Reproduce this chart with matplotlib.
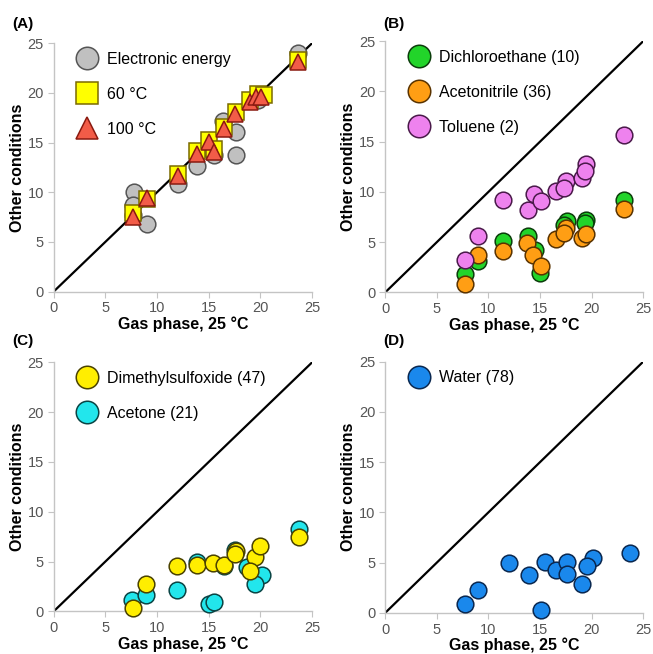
import matplotlib
matplotlib.use("Agg")
import matplotlib.pyplot as plt

plt.rcParams['font.family'] = ['Liberation Sans', 'DejaVu Sans']

# Panel A: gas phase vs other conditions
a_elec_x = [7.8, 7.7, 9.0, 12.0, 13.9, 15.5, 17.6, 17.6, 16.4, 19.8, 23.6, 7.7, 15.0]
a_elec_y = [10.0, 8.7, 6.8, 10.8, 12.6, 13.8, 13.7, 16.1, 17.2, 19.3, 24.0, 7.7, 14.5]
a_60_x = [7.7, 9.0, 12.0, 13.9, 15.0, 15.5, 16.5, 17.6, 19.0, 19.8, 20.3, 23.6]
a_60_y = [7.9, 9.3, 11.8, 14.2, 15.3, 14.4, 16.6, 18.1, 19.3, 19.9, 19.8, 23.3]
a_100_x = [7.7, 9.0, 12.0, 13.9, 15.0, 15.5, 16.5, 17.5, 19.0, 19.6, 20.1, 23.6]
a_100_y = [7.5, 9.4, 11.6, 13.9, 15.1, 14.1, 16.4, 17.9, 19.1, 19.6, 19.6, 23.1]

# Panel B
dce_x = [7.7, 9.0, 11.4, 13.8, 14.5, 15.0, 17.6, 17.3, 19.5, 19.4, 23.1]
dce_y = [1.8, 3.1, 5.1, 5.6, 4.2, 1.9, 7.1, 6.7, 7.2, 6.9, 9.2]
acn_x = [7.7, 9.0, 11.4, 13.7, 14.3, 15.1, 16.5, 17.5, 17.3, 19.1, 19.5, 23.1]
acn_y = [0.8, 3.7, 4.1, 4.9, 3.7, 2.6, 5.3, 6.4, 5.9, 5.4, 5.8, 8.3]
tol_x = [7.7, 9.0, 11.4, 13.8, 14.4, 15.1, 16.5, 17.5, 17.3, 19.1, 19.5, 19.4, 23.1]
tol_y = [3.2, 5.6, 9.2, 8.2, 9.8, 9.1, 10.1, 11.1, 10.4, 11.4, 12.8, 12.1, 15.7]

# Panel C
dmso_x = [7.7, 8.9, 11.9, 13.9, 15.4, 16.5, 17.6, 17.5, 19.5, 20.0, 19.0, 23.7]
dmso_y = [0.3, 2.8, 4.6, 4.7, 4.9, 4.7, 6.1, 5.8, 5.5, 6.6, 4.1, 7.5]
acet_x = [7.6, 8.9, 11.9, 13.9, 15.0, 15.5, 16.5, 17.5, 18.7, 20.2, 19.5, 23.7]
acet_y = [1.2, 1.7, 2.2, 5.0, 0.8, 1.0, 4.6, 6.2, 4.5, 3.7, 2.8, 8.3]

# Panel D
water_x = [7.7, 9.0, 12.0, 13.9, 15.1, 15.5, 16.5, 17.6, 17.6, 19.1, 20.1, 19.6, 23.7]
water_y = [0.9, 2.3, 5.0, 3.8, 0.3, 5.1, 4.3, 5.1, 3.9, 2.9, 5.5, 4.7, 6.0]

xlabel = "Gas phase, 25 \u00b0C"
ylabel = "Other conditions"
ticks = [0, 5, 10, 15, 20, 25]

fig = plt.figure(figsize=(6.53, 6.54), dpi=100)
ax_a = fig.add_axes([0.082, 0.554, 0.396, 0.380])
ax_b = fig.add_axes([0.590, 0.553, 0.395, 0.384])
ax_c = fig.add_axes([0.082, 0.065, 0.396, 0.381])
ax_d = fig.add_axes([0.590, 0.063, 0.395, 0.384])


def style_axes(ax):
    ax.plot([0, 25], [0, 25], color='black', lw=1.6, zorder=1)
    ax.set_xlim(0, 25)
    ax.set_ylim(0, 25)
    ax.set_xticks(ticks)
    ax.set_yticks(ticks)
    for s in ['top', 'right']:
        ax.spines[s].set_visible(False)
    for s in ['left', 'bottom']:
        ax.spines[s].set_color('#c4c4c4')
        ax.spines[s].set_linewidth(1.0)
    ax.tick_params(direction='out', length=4, color='#c4c4c4',
                   labelsize=10.5, labelcolor='#555555', pad=3)
    ax.set_xlabel(xlabel, fontsize=11.5, fontweight='bold', labelpad=1)
    ax.set_ylabel(ylabel, fontsize=11.5, fontweight='bold', labelpad=2)


def pts(ax, x, y, marker, face, edge, label, ms=12, z=3):
    return ax.plot(x, y, ls='none', marker=marker, ms=ms, mfc=face, mec=edge,
                   mew=1.1, label=label, zorder=z, clip_on=False)[0]


def add_legend(ax, handles):
    ax.legend(handles=handles, loc='upper left', bbox_to_anchor=(0.09, 0.965),
              frameon=False, fontsize=11.5, markerscale=1.35, borderpad=0,
              borderaxespad=0, handlelength=1.3, handletextpad=0.6,
              labelspacing=1.25, numpoints=1)


for ax in [ax_a, ax_b, ax_c, ax_d]:
    style_axes(ax)

h1 = pts(ax_a, a_elec_x, a_elec_y, 'o', '#c0c0c0', '#555555', 'Electronic energy')
h2 = pts(ax_a, a_60_x, a_60_y, 's', '#ffff00', '#7a6a00', '60 \u00b0C', ms=11.5, z=4)
h3 = pts(ax_a, a_100_x, a_100_y, '^', '#f25c48', '#8a1a10', '100 \u00b0C', ms=12, z=5)
add_legend(ax_a, [h1, h2, h3])

h1 = pts(ax_b, dce_x, dce_y, 'o', '#22d42a', '#0b3d0b', 'Dichloroethane (10)')
h2 = pts(ax_b, acn_x, acn_y, 'o', '#ff9e14', '#5a3300', 'Acetonitrile (36)', z=4)
h3 = pts(ax_b, tol_x, tol_y, 'o', '#ee82ee', '#4a1a4a', 'Toluene (2)', z=5)
add_legend(ax_b, [h1, h2, h3])

h2 = pts(ax_c, acet_x, acet_y, 'o', '#22e6ec', '#0a4444', 'Acetone (21)', z=3)
h1 = pts(ax_c, dmso_x, dmso_y, 'o', '#ffee00', '#4a4200', 'Dimethylsulfoxide (47)', z=4)
add_legend(ax_c, [h1, h2])

h1 = pts(ax_d, water_x, water_y, 'o', '#1a88ec', '#0a2850', 'Water (78)')
add_legend(ax_d, [h1])

for lab, (px, py) in zip(['(A)', '(B)', '(C)', '(D)'],
                         [(12, 24), (383, 24), (12, 341), (383, 341)]):
    fig.text(px / 653, 1 - py / 654, lab, fontsize=11, fontweight='bold',
             va='center', ha='left')

fig.savefig('out.png', dpi=100)
